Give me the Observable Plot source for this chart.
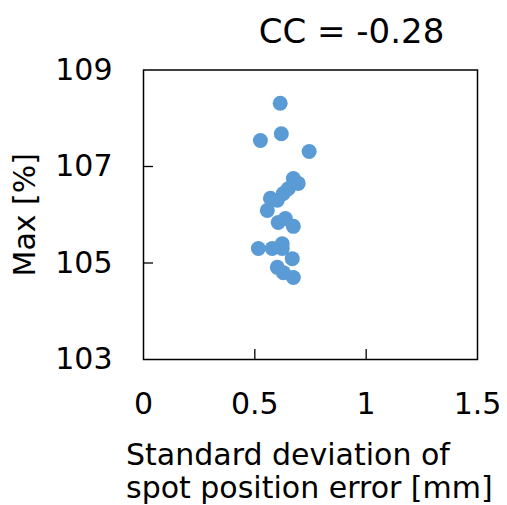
<!DOCTYPE html>
<html>
<head>
<meta charset="utf-8">
<script src="https://cdn.jsdelivr.net/npm/d3@7"></script>
<script src="https://cdn.jsdelivr.net/npm/@observablehq/plot@0.6"></script>
<style>
  html, body { margin: 0; padding: 0; background: #fff; }
  body { font-family: "DejaVu Sans", Verdana, sans-serif; }
  #wrap { position: relative; width: 507px; height: 505px; }
  #title { position: absolute; top: 14px; left: 196px; width: 311px; text-align: center; font-size: 34px; line-height: 1; color: #000; white-space: nowrap; }
  #xlabel { position: absolute; top: 438px; left: 126px; font-size: 30px; line-height: 33px; color: #000; white-space: nowrap; }
  #chart { position: absolute; top: 0; left: 0; }
</style>
</head>
<body>
<div id="wrap">
  <div id="chart"></div>
  <div id="title"></div>
  <div id="xlabel"></div>
</div>
<script>
const titleText = "CC = -0.28";
const xLabelLines = ["Standard deviation of", "spot position error [mm]"];
const yLabelText = "Max [%]";

const sdError = [0.614, 0.619, 0.525, 0.744, 0.673, 0.695, 0.650, 0.628, 0.570, 0.601, 0.556,
                 0.605, 0.637, 0.673, 0.516, 0.578, 0.623, 0.623, 0.668, 0.601, 0.628, 0.673];
const maxPct  = [108.31, 107.68, 107.54, 107.31, 106.75, 106.65, 106.54, 106.44, 106.34, 106.30, 106.09,
                 105.84, 105.92, 105.76, 105.30, 105.30, 105.40, 105.30, 105.09, 104.91, 104.80, 104.70];

const xTicks = [0, 0.5, 1, 1.5];
const yTicks = [103, 105, 107, 109];
const xInnerTicks = [0.5, 1];
const yInnerTicks = [105, 107];

const points = sdError.map((x, i) => ({x, y: maxPct[i]}));

const W = 507, H = 505;
const mL = 143, mR = 30, mT = 69.5, mB = 146;
const plotW = W - mL - mR, plotH = H - mT - mB;
const tickLen = 10;

const chart = Plot.plot({
  width: W,
  height: H,
  marginLeft: mL,
  marginRight: mR,
  marginTop: mT,
  marginBottom: mB,
  style: { fontFamily: "'DejaVu Sans', Verdana, sans-serif", fontSize: "30px", color: "#000", background: "#fff" },
  x: { domain: [0, 1.5] },
  y: { domain: [103, 109] },
  marks: [
    Plot.axisX({ticks: xTicks, tickSize: 0, tickPadding: 33, tickFormat: d => String(d), label: null, fontSize: 30}),
    Plot.axisY({ticks: yTicks, tickSize: 0, tickPadding: 31, tickFormat: d => String(d), label: yLabelText,
                labelArrow: "none", labelAnchor: "center", labelOffset: 130, fontSize: 30}),
    Plot.tickX(xInnerTicks, {x: d => d, insetTop: plotH - tickLen, stroke: "#000", strokeWidth: 1.3}),
    Plot.tickY(yInnerTicks, {y: d => d, insetRight: plotW - tickLen, stroke: "#000", strokeWidth: 1.3}),
    Plot.frame({stroke: "#000", strokeWidth: 1.5}),
    Plot.dot(points, {x: "x", y: "y", r: 7.5, fill: "#5B9BD5", stroke: "none"})
  ]
});
document.getElementById("chart").appendChild(chart);
document.getElementById("title").textContent = titleText;
document.getElementById("xlabel").innerHTML = xLabelLines.map(s => `<div>${s}</div>`).join("");
</script>
</body>
</html>
